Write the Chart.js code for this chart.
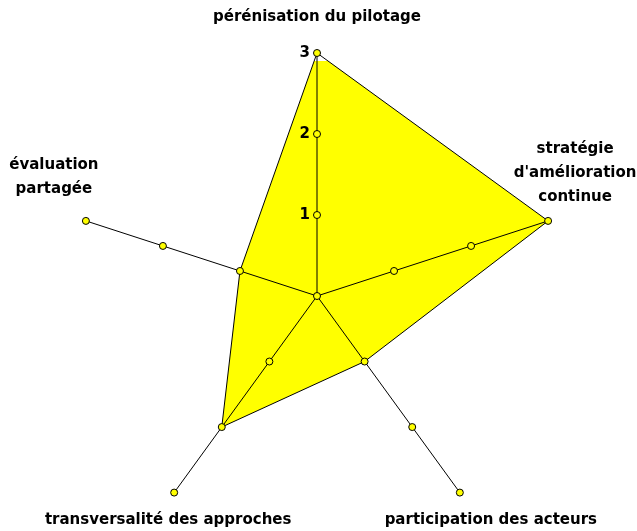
<!DOCTYPE html>
<html>
<head>
<meta charset="utf-8">
<script src="https://cdn.jsdelivr.net/npm/chart.js@4.4.1/dist/chart.umd.min.js"></script>
<style>
  html, body { margin: 0; padding: 0; background: #fff; }
  #wrap { width: 637px; height: 531px; }
</style>
</head>
<body>
<div id="wrap"><canvas id="radar"></canvas></div>
<script>
'use strict';
// axes, clockwise from the top
const axisLabels = [
  ['pérénisation du pilotage'],
  ['stratégie', 'd\'amélioration', 'continue'],
  ['participation des acteurs'],
  ['transversalité des approches'],
  ['évaluation', 'partagée'],
];
const scores = [3, 3, 1, 2, 1];
const tickValues = [1, 2, 3];

// where each axis label sits, relative to the end of its axis
const labelOffsets = [[0, -36], [27, -48], [31, 28], [-6, 28], [-32, -44]];
const FONT = 'bold 15px "DejaVu Sans"';

/////////////////////////////////////////////

function marker(ctx, x, y){
  ctx.beginPath();
  ctx.arc(x, y, 3.5, 0, Math.PI * 2);
  ctx.fillStyle = '#ffff00';
  ctx.fill();
  ctx.lineWidth = 1;
  ctx.strokeStyle = '#000';
  ctx.stroke();
}

const overlay = {
  id: 'overlay',
  afterDraw(chart){
    const ctx = chart.ctx;
    const r = chart.scales.r;
    ctx.save();
    // small markers on every axis
    const c = r.getPointPositionForValue(0, 0);
    marker(ctx, c.x, c.y);
    for (let i = 0; i < axisLabels.length; i++) {
      tickValues.forEach(v => {
        const p = r.getPointPositionForValue(i, v);
        marker(ctx, p.x, p.y);
      });
    }
    ctx.font = FONT;
    ctx.fillStyle = '#000';
    // tick numbers along the top axis
    ctx.textAlign = 'right';
    ctx.textBaseline = 'middle';
    tickValues.forEach(v => {
      const p = r.getPointPositionForValue(0, v);
      ctx.fillText(String(v), p.x - 7, p.y);
    });
    // axis names
    ctx.textAlign = 'center';
    axisLabels.forEach((lines, i) => {
      const p = r.getPointPositionForValue(i, r.max);
      const lh = 24;
      const y0 = p.y + labelOffsets[i][1] - (lines.length - 1) * lh / 2;
      lines.forEach((t, k) => ctx.fillText(t, p.x + labelOffsets[i][0], y0 + k * lh));
    });
    ctx.restore();
  }
};

new Chart(document.getElementById('radar'), {
  type: 'radar',
  data: {
    labels: axisLabels,
    datasets: [{
      data: scores,
      backgroundColor: '#ffff00',
      borderColor: '#000',
      borderWidth: 1,
      fill: true,
      pointRadius: 0,
    }]
  },
  options: {
    responsive: true,
    maintainAspectRatio: false,
    animation: false,
    layout: { padding: { top: 61, left: 0, right: 3, bottom: 0 } },
    plugins: { legend: { display: false }, tooltip: { enabled: false } },
    scales: {
      r: {
        min: 0,
        max: 3,
        ticks: { display: false, stepSize: 1 },
        grid: { display: false, z: 1 },
        angleLines: { display: true, color: '#000', lineWidth: 1 },
        pointLabels: { display: false },
        afterFit(scale){ scale.drawingArea = 243; },
      }
    }
  },
  plugins: [overlay]
});
</script>
</body>
</html>
